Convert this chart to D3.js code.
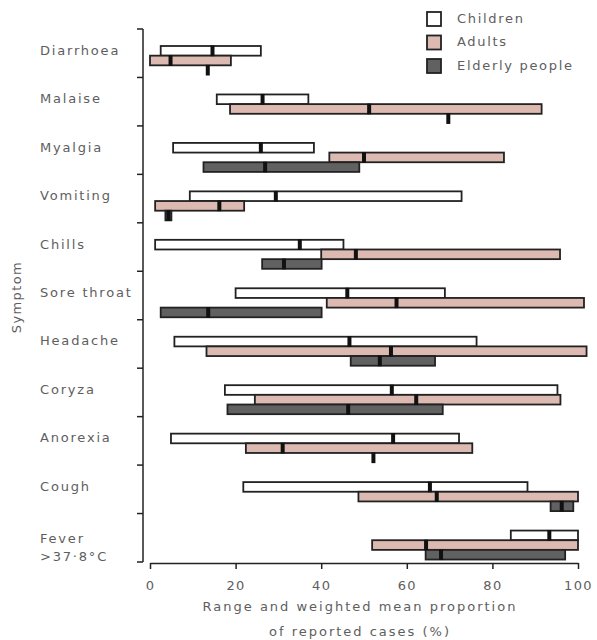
<!doctype html>
<html>
<head>
<meta charset="utf-8">
<script src="https://cdn.jsdelivr.net/npm/d3@7"></script>
<style>
  body { margin: 0; background: #fff; }
  text { font-family: "DejaVu Sans", sans-serif; fill: #5e5e5e; }
</style>
</head>
<body>
<script>
var symptoms = ["Diarrhoea", "Malaise", "Myalgia", "Vomiting", "Chills", "Sore throat",
                "Headache", "Coryza", "Anorexia", "Cough", "Fever >37·8°C"];
var groups = ["Children", "Adults", "Elderly people"];

// [min, max, weighted mean] per symptom
var children = [[2.5, 25.9, 14.6], [15.6, 37.0, 26.3], [5.4, 38.3, 25.9], [9.3, 72.8, 29.4],
                [1.2, 45.2, 35.0], [20.0, 68.9, 46.1], [5.7, 76.3, 46.6], [17.5, 95.2, 56.5],
                [4.9, 72.2, 56.8], [21.8, 88.2, 65.4], [84.3, 100, 93.3]];
var adults = [[0, 18.9, 4.8], [18.7, 91.5, 51.2], [41.9, 82.7, 50.0], [1.2, 22.0, 16.2],
              [40.0, 95.8, 48.1], [41.3, 101.4, 57.6], [13.2, 102.0, 56.3], [24.5, 95.9, 62.2],
              [22.4, 75.3, 31.0], [48.7, 100, 67.0], [51.9, 100, 64.5]];
var elderly = [[13.5, 13.5, 13.5], [69.7, 69.7, 69.7], [12.5, 48.9, 26.9], [3.6, 5.0, 4.3],
               [26.2, 40.1, 31.3], [2.5, 40.1, 13.6], [46.9, 66.6, 53.7], [18.1, 68.4, 46.3],
               [52.2, 52.2, 52.2], [93.6, 98.9, 96.2], [64.4, 97.0, 68.0]];
var xTicks = [0, 20, 40, 60, 80, 100];

var fills = {"Children": "#ffffff", "Adults": "#dcb9b1", "Elderly people": "#616161"};

var svg = d3.select('body').append('svg')
    .attr('width', 597)
    .attr('height', 640);

var x = d3.scaleLinear().domain([0, 100]).range([150, 578]);
var y = d3.scaleBand().domain(symptoms).range([29, 562]);
var inner = d3.scaleBand().domain(groups).range([17, 46]);

var rows = [];
symptoms.forEach(function(s, i) {
    rows.push({s: s, g: "Children", v: children[i]});
    rows.push({s: s, g: "Adults", v: adults[i]});
    rows.push({s: s, g: "Elderly people", v: elderly[i]});
});

// bars
svg.append('g').selectAll('rect')
    .data(rows.filter(function(d){ return d.v[1] > d.v[0]; }))
    .enter().append('rect')
    .attr('x', function(d){ return x(d.v[0]); })
    .attr('y', function(d){ return y(d.s) + inner(d.g); })
    .attr('width', function(d){ return x(d.v[1]) - x(d.v[0]); })
    .attr('height', inner.bandwidth())
    .attr('fill', function(d){ return fills[d.g]; })
    .attr('stroke', '#222')
    .attr('stroke-width', 1.8);

// weighted means
svg.append('g').selectAll('rect')
    .data(rows)
    .enter().append('rect')
    .attr('x', function(d){ return x(d.v[2]) - 2; })
    .attr('y', function(d){ return y(d.s) + inner(d.g) - 0.5; })
    .attr('width', 4)
    .attr('height', inner.bandwidth() + 1)
    .attr('fill', '#111');

// y axis
var yAxis = svg.append('g').attr('transform', 'translate(143,0)');
yAxis.append('line')
    .attr('y1', y.range()[0]).attr('y2', y.range()[1])
    .attr('stroke', '#222').attr('stroke-width', 1.5);
yAxis.selectAll('line.tick')
    .data(symptoms.map(function(s){ return y(s); }).concat([y.range()[1]]))
    .enter().append('line')
    .attr('class', 'tick')
    .attr('x1', -6).attr('x2', 0)
    .attr('y1', function(d){ return d; }).attr('y2', function(d){ return d; })
    .attr('stroke', '#222').attr('stroke-width', 1.5);

var labels = svg.append('g');
function label(txt, yy) {
    labels.append('text').attr('x', 40).attr('y', yy)
        .attr('dominant-baseline', 'middle').style('font-size', '13px')
        .style('letter-spacing', '1.8px').text(txt);
}
symptoms.forEach(function(s) {
    var cy = y(s) + y.bandwidth() / 2;
    if (s.indexOf('Fever') === 0) {
        label('Fever', cy + 2);
        label('>37·8°C', cy + 20);
    } else {
        label(s, cy - 2);
    }
});

svg.append('text')
    .attr('transform', 'translate(17,297) rotate(-90)')
    .attr('text-anchor', 'middle').attr('dominant-baseline', 'middle')
    .style('font-size', '13px').style('letter-spacing', '1.4px')
    .text('Symptom');

// x axis
var xAxis = svg.append('g')
    .attr('transform', 'translate(0,563)')
    .call(d3.axisBottom(x).tickValues(xTicks).tickSize(6).tickSizeOuter(0).tickPadding(12));
xAxis.select('.domain').attr('stroke', '#222').attr('stroke-width', 1.5);
xAxis.selectAll('.tick line').attr('stroke', '#222').attr('stroke-width', 1.5);
xAxis.selectAll('.tick text')
    .style('font-size', '13px').style('letter-spacing', '1.4px')
    .style('font-family', '"DejaVu Sans", sans-serif').attr('fill', '#5e5e5e');

svg.append('text').attr('x', 360).attr('y', 607)
    .attr('text-anchor', 'middle').attr('dominant-baseline', 'middle')
    .style('font-size', '13px').style('letter-spacing', '2px')
    .text('Range and weighted mean proportion');
svg.append('text').attr('x', 360).attr('y', 632)
    .attr('text-anchor', 'middle').attr('dominant-baseline', 'middle')
    .style('font-size', '13px').style('letter-spacing', '2px')
    .text('of reported cases (%)');

// legend
var legend = svg.append('g').selectAll('g')
    .data(groups)
    .enter().append('g')
    .attr('transform', function(d, i){ return 'translate(427,' + (12 + i * 23.5) + ')'; });
legend.append('rect')
    .attr('width', 14).attr('height', 14)
    .attr('fill', function(d){ return fills[d]; })
    .attr('stroke', '#222').attr('stroke-width', 1.8);
legend.append('text')
    .attr('x', 30).attr('y', 7)
    .attr('dominant-baseline', 'middle')
    .style('font-size', '13px').style('letter-spacing', '1.7px')
    .text(function(d){ return d; });
</script>
</body>
</html>
